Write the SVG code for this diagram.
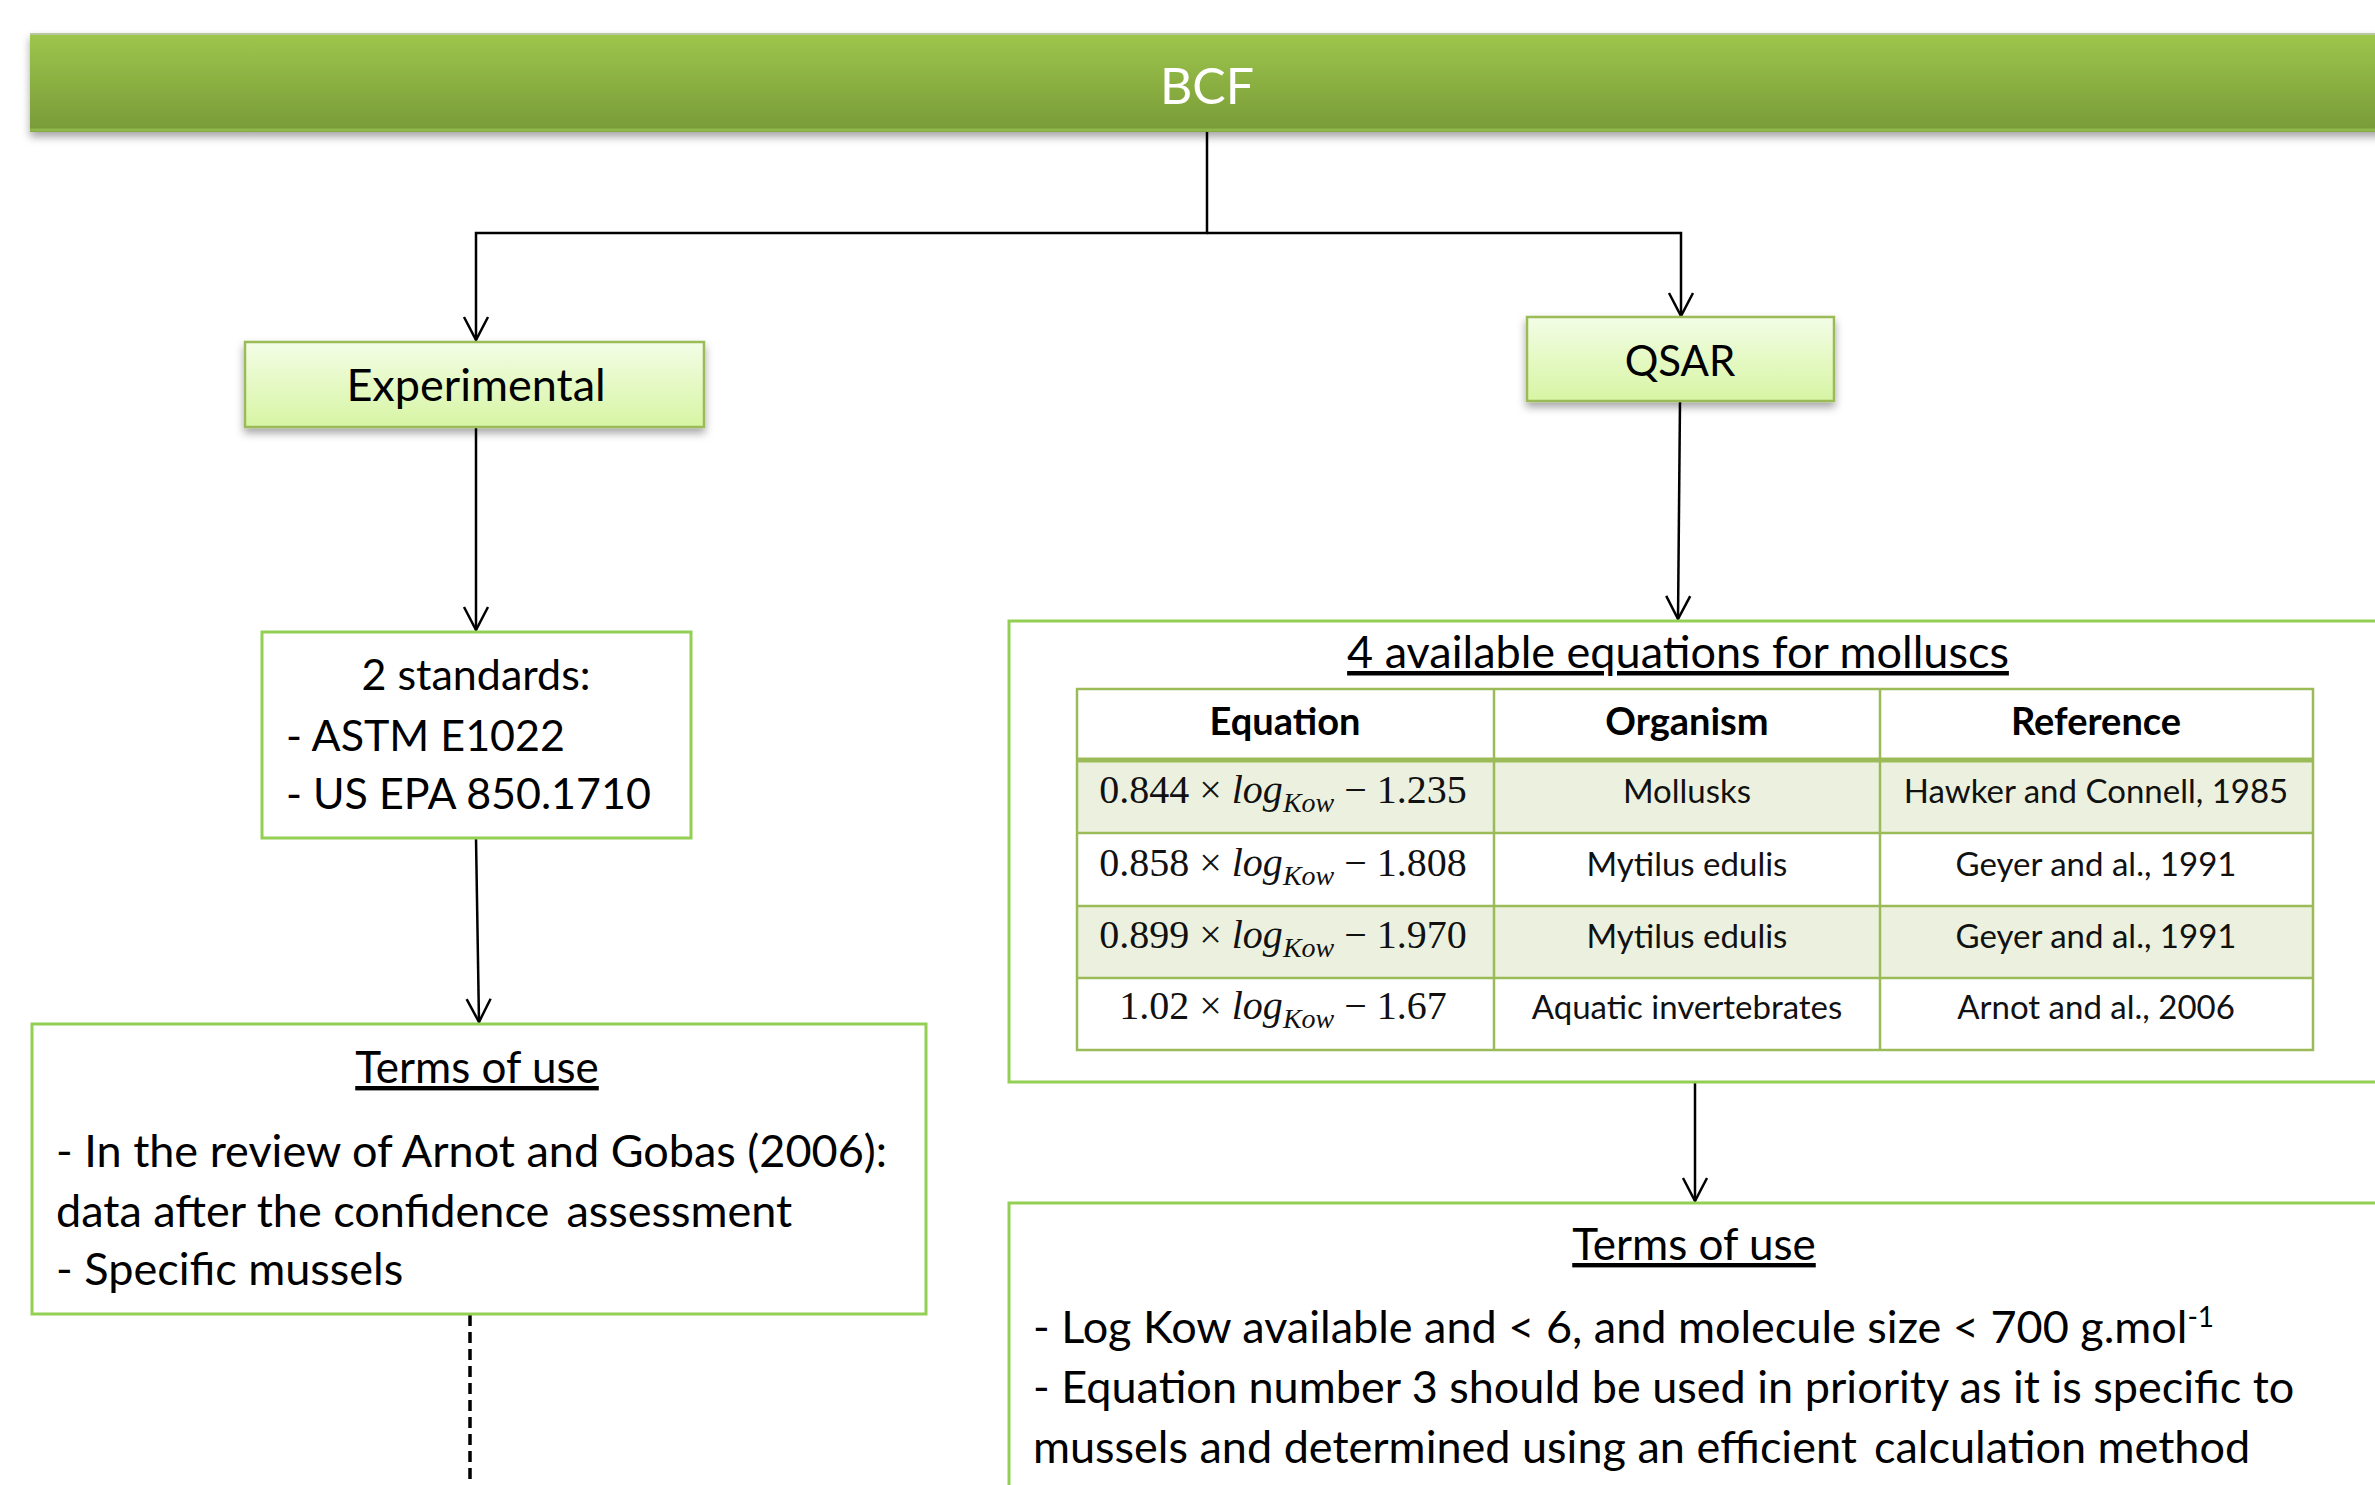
<svg xmlns="http://www.w3.org/2000/svg" width="2375" height="1485" viewBox="0 0 2375 1485">
<style>
.t{font-family:Lato,"Liberation Sans",sans-serif;fill:#000}
.b{fill:#fff;stroke:#92cf53;stroke-width:3}
.c{fill:none;stroke:#000;stroke-width:2.5}
.tl{fill:none;stroke:#9bbb59;stroke-width:2.5}
.m{font-family:"Liberation Serif","DejaVu Serif",serif;font-size:40px;fill:#111}
.cell{font-family:Lato,"Liberation Sans",sans-serif;font-size:33px;fill:#111}
.hd{font-family:Lato,"Liberation Sans",sans-serif;font-size:38px;font-weight:bold;fill:#000}
</style>
<defs>
<linearGradient id="gBar" x1="0" y1="0" x2="0" y2="1">
<stop offset="0" stop-color="#9ec64c"/><stop offset="1" stop-color="#789a38"/>
</linearGradient>
<linearGradient id="gBox" x1="0" y1="0" x2="0" y2="1">
<stop offset="0" stop-color="#f3fde6"/><stop offset="1" stop-color="#d7f5a3"/>
</linearGradient>
<filter id="sh" x="-10%" y="-20%" width="120%" height="150%">
<feDropShadow dx="0" dy="5" stdDeviation="4" flood-color="#000" flood-opacity="0.35"/>
</filter>
<marker id="ar" markerUnits="userSpaceOnUse" markerWidth="40" markerHeight="40" viewBox="-30 -20 40 40" refX="0" refY="0" orient="auto">
<path d="M-23,-12 L0,0 L-23,12" fill="none" stroke="#000" stroke-width="2.5"/>
</marker>
</defs>
<rect width="2375" height="1485" fill="#fff"/>

<g id="connectors">
<path class="c" d="M1207,132 V233 H476 V340" marker-end="url(#ar)"/>
<path class="c" d="M1207,233 H1681 V316" marker-end="url(#ar)"/>
<path class="c" d="M476,427 V630" marker-end="url(#ar)"/>
<path class="c" d="M476,838 L479,1022" marker-end="url(#ar)"/>
<path class="c" d="M1680,401 L1678,619" marker-end="url(#ar)"/>
<path class="c" d="M1695,1082 V1201" marker-end="url(#ar)"/>
<path d="M470,1315 V1485" fill="none" stroke="#000" stroke-width="3.5" stroke-dasharray="11 6"/>
</g>

<g id="bcf">
<rect x="30" y="33" width="2380" height="99" fill="url(#gBar)" filter="url(#sh)"/>
<line x1="30" y1="34" x2="2375" y2="34" stroke="#b9c7a0" stroke-width="2"/>
<line x1="30" y1="130" x2="2375" y2="130" stroke="#8fb84a" stroke-width="3"/>
<text class="t" x="1207" y="104" text-anchor="middle" font-size="50" style="fill:#fff">BCF</text>
</g>

<g id="experimental">
<rect x="245" y="342" width="459" height="85" fill="url(#gBox)" stroke="#9bbb59" stroke-width="2.5" filter="url(#sh)"/>
<text class="t" x="476" y="401" text-anchor="middle" font-size="45">Experimental</text>
</g>

<g id="qsar">
<rect x="1527" y="317" width="307" height="84" fill="url(#gBox)" stroke="#9bbb59" stroke-width="2.5" filter="url(#sh)"/>
<text class="t" x="1680" y="376" text-anchor="middle" font-size="42">QSAR</text>
</g>

<g id="standards">
<rect class="b" x="262" y="632" width="429" height="206"/>
<text class="t" x="476" y="690" text-anchor="middle" font-size="43">2 standards:</text>
<text class="t" x="286" y="751" font-size="43">- ASTM E1022</text>
<text class="t" x="286" y="809" font-size="43">- US EPA 850.1710</text>
</g>

<g id="terms-left">
<rect class="b" x="32" y="1024" width="894" height="290"/>
<text class="t" x="477" y="1083" text-anchor="middle" font-size="44" text-decoration="underline">Terms of use</text>
<text class="t" x="56" y="1167" font-size="45">- In the review of Arnot and Gobas (2006):</text>
<text class="t" x="56" y="1227" font-size="45">data after the confidence&#8201; assessment</text>
<text class="t" x="56" y="1285" font-size="45">- Specific mussels</text>
</g>

<g id="equations">
<rect class="b" x="1009" y="621" width="1400" height="461"/>
<text class="t" x="1678" y="668" text-anchor="middle" font-size="45" text-decoration="underline">4 available equations for molluscs</text>
<rect x="1077" y="760" width="1236" height="73" fill="#ebf1de"/>
<rect x="1077" y="906" width="1236" height="72" fill="#ebf1de"/>
<rect class="tl" x="1077" y="689" width="1236" height="361"/>
<line class="tl" x1="1077" y1="760" x2="2313" y2="760" style="stroke-width:5"/>
<line class="tl" x1="1077" y1="833" x2="2313" y2="833"/>
<line class="tl" x1="1077" y1="906" x2="2313" y2="906"/>
<line class="tl" x1="1077" y1="978" x2="2313" y2="978"/>
<line class="tl" x1="1494" y1="689" x2="1494" y2="1050"/>
<line class="tl" x1="1880" y1="689" x2="1880" y2="1050"/>
<text class="hd" x="1285" y="735" text-anchor="middle">Equation</text>
<text class="hd" x="1687" y="735" text-anchor="middle">Organism</text>
<text class="hd" x="2096" y="735" text-anchor="middle">Reference</text>
<text class="m" x="1283" y="803" text-anchor="middle">0.844 × <tspan font-style="italic">log</tspan><tspan font-style="italic" font-size="28" dy="9">Kow</tspan><tspan dy="-9"> − 1.235</tspan></text>
<text class="m" x="1283" y="876" text-anchor="middle">0.858 × <tspan font-style="italic">log</tspan><tspan font-style="italic" font-size="28" dy="9">Kow</tspan><tspan dy="-9"> − 1.808</tspan></text>
<text class="m" x="1283" y="948" text-anchor="middle">0.899 × <tspan font-style="italic">log</tspan><tspan font-style="italic" font-size="28" dy="9">Kow</tspan><tspan dy="-9"> − 1.970</tspan></text>
<text class="m" x="1283" y="1019" text-anchor="middle">1.02 × <tspan font-style="italic">log</tspan><tspan font-style="italic" font-size="28" dy="9">Kow</tspan><tspan dy="-9"> − 1.67</tspan></text>
<text class="cell" x="1687" y="803" text-anchor="middle">Mollusks</text>
<text class="cell" x="1687" y="876" text-anchor="middle">Mytilus edulis</text>
<text class="cell" x="1687" y="948" text-anchor="middle">Mytilus edulis</text>
<text class="cell" x="1687" y="1019" text-anchor="middle">Aquatic invertebrates</text>
<text class="cell" x="2096" y="803" text-anchor="middle">Hawker and Connell, 1985</text>
<text class="cell" x="2096" y="876" text-anchor="middle">Geyer and al., 1991</text>
<text class="cell" x="2096" y="948" text-anchor="middle">Geyer and al., 1991</text>
<text class="cell" x="2096" y="1019" text-anchor="middle">Arnot and al., 2006</text>
</g>

<g id="terms-right">
<rect class="b" x="1009" y="1203" width="1400" height="320"/>
<text class="t" x="1694" y="1260" text-anchor="middle" font-size="44" text-decoration="underline">Terms of use</text>
<text class="t" x="1033" y="1343" font-size="45">- Log Kow available and &lt; 6, and molecule size &lt; 700 g.mol<tspan font-size="28" dy="-16">-1</tspan></text>
<text class="t" x="1033" y="1403" font-size="45">- Equation number 3 should be used in priority as it is specific to</text>
<text class="t" x="1033" y="1463" font-size="45">mussels and determined using an efficient&#8201; calculation method</text>
</g>
</svg>
